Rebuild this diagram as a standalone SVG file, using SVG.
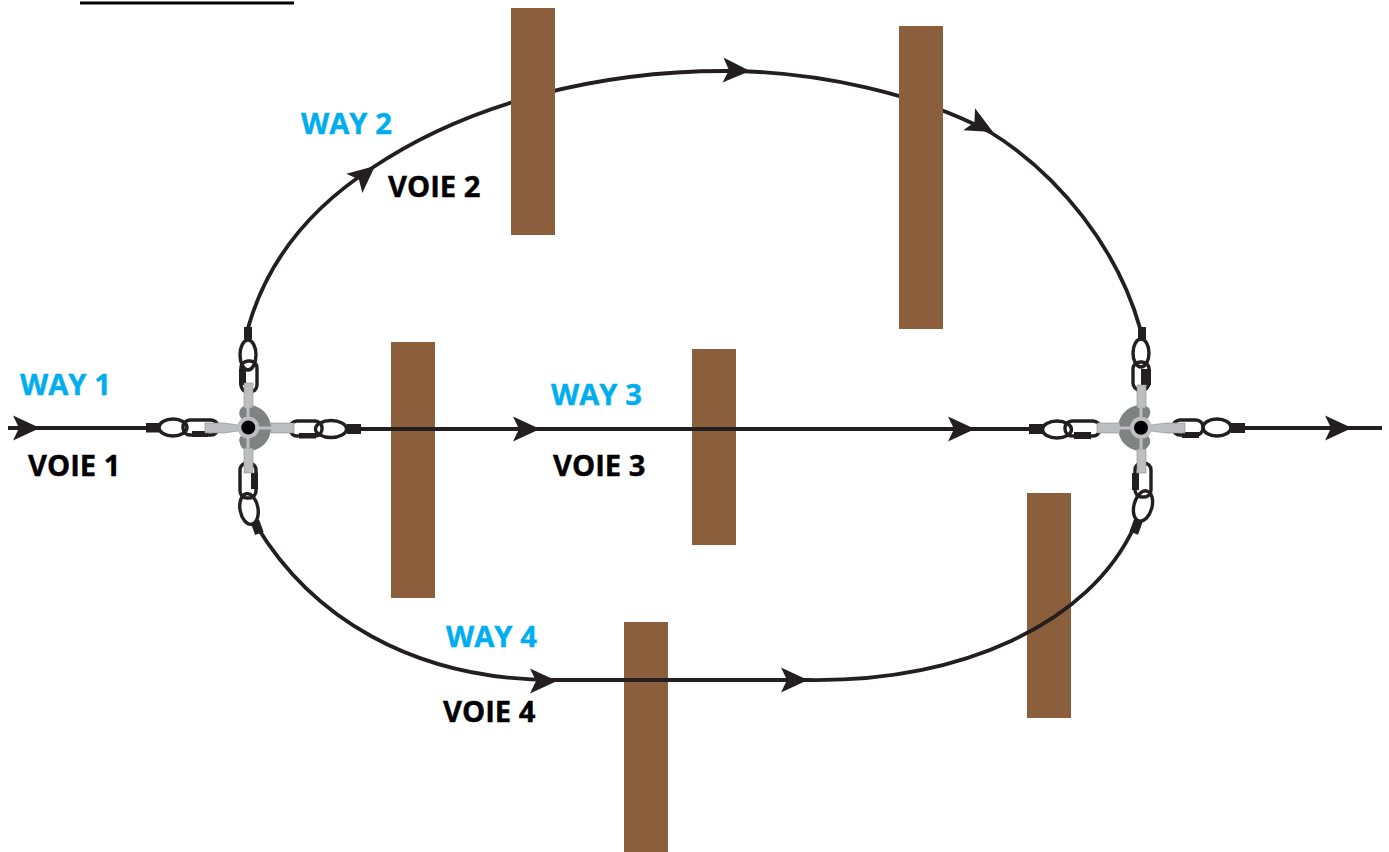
<svg xmlns="http://www.w3.org/2000/svg" width="1389" height="852" viewBox="0 0 1389 852">
<style>
.bar{fill:#8b5e3c}
.ln{fill:none;stroke:#231f20;stroke-width:3.8}
.lk{fill:none;stroke:#231f20;stroke-width:3.4}
.bk{fill:#231f20}
.gb{fill:#bcbec0;stroke:#8a8c8e;stroke-width:.6}
.dk{fill:#7f8281}
.ring{fill:#000;stroke:#bcbec0;stroke-width:4}
.hb{fill:none;stroke:#bcbec0;stroke-width:3}
.way{font:bold 29.2px "Open Sans",sans-serif;fill:#00aeef;stroke:#00aeef;stroke-width:.4}
.voie{font:bold 29.2px "Open Sans",sans-serif;fill:#000;stroke:#000;stroke-width:.4}
</style>
<defs>
<path id="ah" class="bk" d="M0,0L-27,-12.500L-21,0L-27,12.500Z"/>
</defs>
<rect width="1389" height="852" fill="#fff"/>
<line x1="80" y1="3" x2="294" y2="3" stroke="#000" stroke-width="3"/>
<g id="posts-lower">
<rect class="bar" x="391" y="342" width="44" height="256"/>
<rect class="bar" x="692" y="349" width="44" height="196"/>
<rect class="bar" x="624" y="622" width="44" height="230"/>
<rect class="bar" x="1027" y="493" width="44" height="225"/>
</g>
<g id="connectors">
<path class="ln" d="M8,428H150"/>
<path class="ln" d="M348,429H1032"/>
<path class="ln" d="M1240,428H1382"/>
<path class="ln" d="M248,328C268,257 315,205 372,168C470,102 600,71 725,71C820,71 920,95 990,132C1060,175 1118,250 1140,328"/>
<path class="ln" d="M256,525C310,615 410,680 555,680H808C960,682 1090,625 1135,525"/>
<use href="#ah" transform="translate(40,428)"/>
<use href="#ah" transform="translate(540,429)"/>
<use href="#ah" transform="translate(975,429)"/>
<use href="#ah" transform="translate(1352,428)"/>
<use href="#ah" transform="translate(557,681)"/>
<use href="#ah" transform="translate(808,680)"/>
<use href="#ah" transform="translate(375,166) rotate(-40)"/>
<use href="#ah" transform="translate(750,71) rotate(2)"/>
<use href="#ah" transform="translate(993,132) rotate(28)"/>
</g>
<g id="posts-upper">
<rect class="bar" x="511" y="8" width="44" height="227"/>
<rect class="bar" x="899" y="26" width="44" height="303"/>
</g>
<g id="junction-left">
<rect class="lk" x="183" y="420" width="35" height="15" rx="7"/>
<rect class="lk" x="290" y="421" width="32" height="15" rx="7"/>
<rect class="lk" x="241" y="361" width="16" height="31" rx="7"/>
<rect class="lk" x="240" y="463" width="16" height="35" rx="7"/>
<ellipse class="lk" cx="173" cy="427.500" rx="14" ry="8.500"/>
<ellipse class="lk" cx="331" cy="429" rx="15.500" ry="8.500"/>
<ellipse class="lk" cx="248" cy="355" rx="8" ry="15"/>
<ellipse class="lk" cx="249" cy="509" rx="9" ry="15.500" transform="rotate(-10 249 509)"/>
<rect class="bk" x="146" y="423" width="14" height="9.500"/>
<rect class="bk" x="192" y="431" width="16" height="6"/>
<rect class="bk" x="299" y="433" width="17" height="5.500"/>
<rect class="bk" x="347" y="424" width="14" height="10"/>
<rect class="bk" x="244" y="327" width="8" height="12"/>
<rect class="bk" x="239" y="369" width="7" height="16"/>
<rect class="bk" x="251" y="473" width="7" height="16"/>
<rect class="bk" x="252.500" y="521" width="9" height="13" transform="rotate(-20 257 527)"/>
<path class="dk" d="M248,405A23,23 0 0 1 248,451C244,450 240,447 240,443C238,440 240,436 243,434L243,420C240,418 238,414 240,410C241,407 245,405 248,405Z"/>
<path class="gb" d="M205,423H224L238,425V431L224,433H205Z"/>
<rect class="gb" x="271" y="423" width="23" height="10"/>
<rect class="gb" x="244" y="383" width="9" height="25"/>
<rect class="gb" x="244" y="448" width="9" height="25"/>
<path class="hb" d="M248,417V407M248,448V438M259,428H272M237,428H224"/>
<circle class="ring" cx="248.300" cy="427.500" r="9"/>
</g>
<g id="junction-right">
<rect class="lk" x="1065" y="421" width="35" height="15" rx="7"/>
<rect class="lk" x="1173" y="420" width="30" height="15" rx="7"/>
<rect class="lk" x="1133" y="362" width="16" height="28" rx="7"/>
<rect class="lk" x="1135" y="463" width="16" height="34" rx="7"/>
<ellipse class="lk" cx="1057" cy="429.500" rx="14.500" ry="8.500"/>
<ellipse class="lk" cx="1217" cy="427.500" rx="14" ry="8.500"/>
<ellipse class="lk" cx="1141" cy="353" rx="8" ry="14"/>
<ellipse class="lk" cx="1143" cy="506" rx="9" ry="15.500" transform="rotate(15 1143 506)"/>
<rect class="bk" x="1029" y="424" width="14" height="10"/>
<rect class="bk" x="1074" y="432" width="17" height="7"/>
<rect class="bk" x="1182" y="432" width="17" height="6"/>
<rect class="bk" x="1231" y="423" width="14" height="10"/>
<rect class="bk" x="1138" y="327" width="8" height="12"/>
<rect class="bk" x="1141" y="369" width="10" height="16"/>
<rect class="bk" x="1132" y="473" width="7" height="17"/>
<rect class="bk" x="1131.500" y="520.500" width="9" height="13" transform="rotate(20 1136 527)"/>
<path class="dk" d="M1141,405A23,23 0 0 0 1141,451C1145,450 1149,447 1150,443C1151,440 1149,436 1146,434L1146,420C1149,418 1151,414 1150,410C1149,407 1145,405 1141,405Z"/>
<path class="gb" d="M1185,423H1166L1151,425V431L1166,433H1185Z"/>
<rect class="gb" x="1097" y="423" width="23" height="10"/>
<rect class="gb" x="1137" y="385" width="9" height="23"/>
<rect class="gb" x="1137" y="449" width="9" height="24"/>
<path class="hb" d="M1141,417V407M1141,449V439M1130,428H1118M1152,428H1165"/>
<circle class="ring" cx="1141" cy="427.700" r="9"/>
</g>
<g id="labels">
<text class="way" x="20" y="395">WAY 1</text>
<text class="voie" x="28" y="476">VOIE 1</text>
<text class="way" x="301" y="134">WAY 2</text>
<text class="voie" x="388" y="197">VOIE 2</text>
<text class="way" x="551" y="405">WAY 3</text>
<text class="voie" x="553" y="476">VOIE 3</text>
<text class="way" x="446" y="647">WAY 4</text>
<text class="voie" x="443" y="722">VOIE 4</text>
</g>
</svg>
